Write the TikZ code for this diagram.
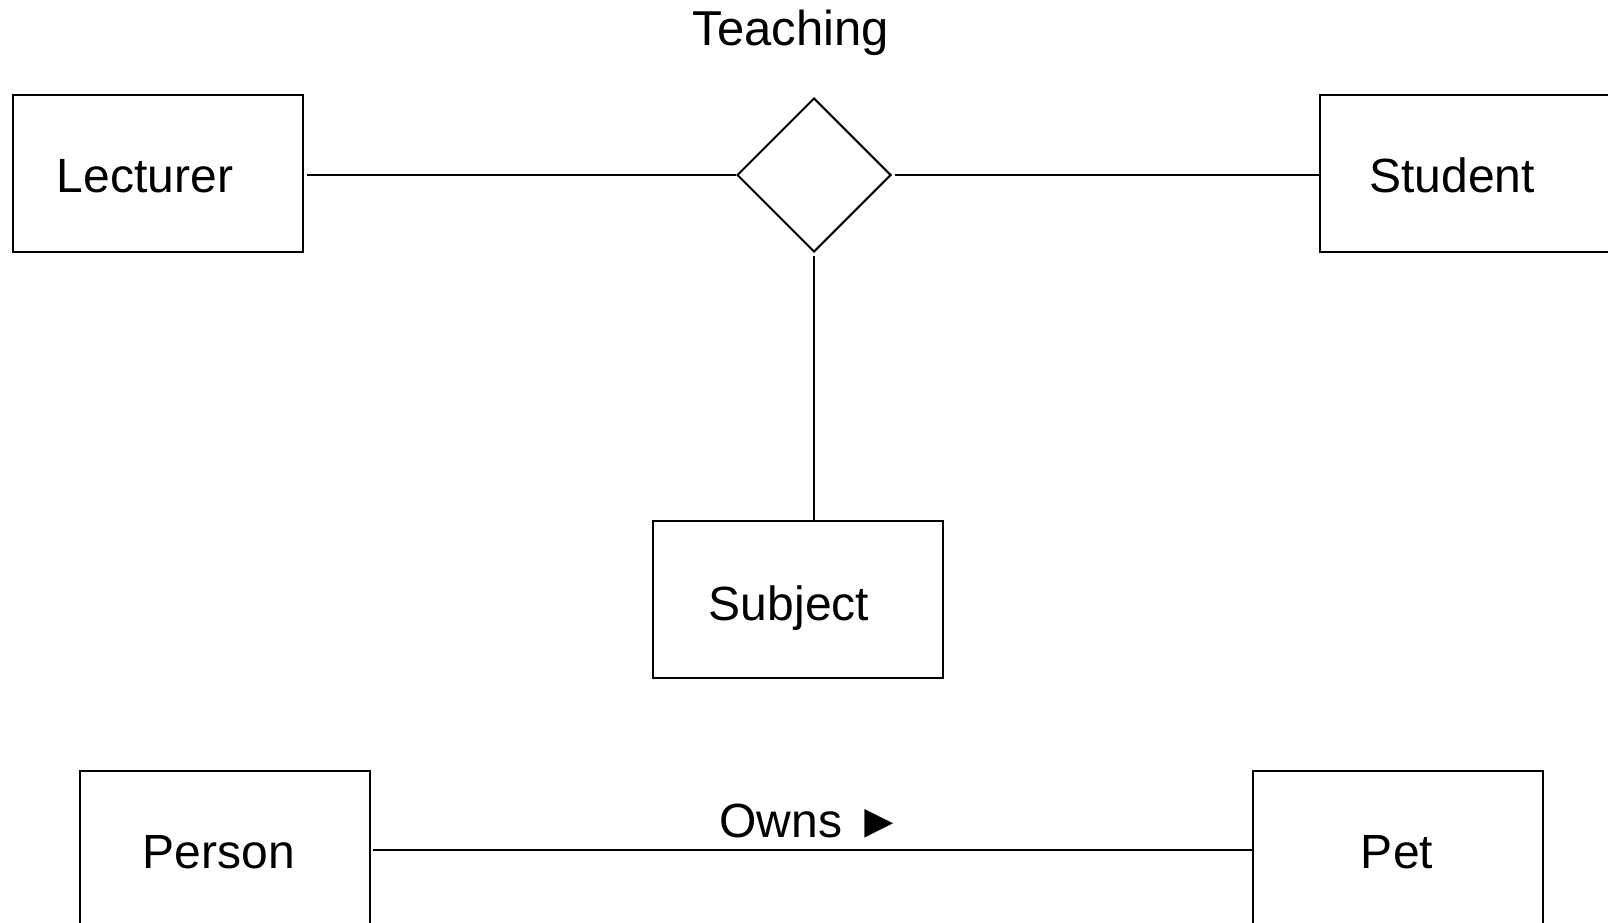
\documentclass[tikz,border=0pt]{standalone}
\usepackage{fontspec}
\setmainfont{Liberation Sans}
\usetikzlibrary{shapes.geometric}

\tikzset{
  entity/.style={draw, line width=2pt, rectangle, minimum width=290pt, minimum height=157pt, inner sep=0pt},
  relation/.style={draw, line width=2pt, diamond, minimum width=154pt, minimum height=154pt, inner sep=0pt},
  caption/.style={font=\fontsize{48}{52}\selectfont, text height=33pt, text depth=0pt, inner sep=0pt},
  link/.style={line width=2pt, shorten <=2.5pt},
}

\begin{document}
\begin{tikzpicture}[x=1pt, y=-1pt]
  \useasboundingbox (0,0) rectangle (1608,922);
  \clip (0,0) rectangle (1608,922);

  % ternary relationship
  \node[entity, label={[caption, xshift=-13pt, yshift=-2.5pt]center:Lecturer}] (lect) at (158,173.5) {};
  \node[entity, label={[caption, xshift=-13pt, yshift=-2.5pt]center:Student}] (stud) at (1465,173.5) {};
  \node[entity, label={[caption, xshift=-9pt, yshift=-4pt]center:Subject}] (subj) at (798,599.5) {};
  \node[relation] (teach) at (814,175) {};
  \node[caption, font=\fontsize{49}{53}\selectfont] (teach-name) at (791,29) {Teaching};

  \draw[link] (teach.west -| lect.east) -- (teach.west);
  \draw[link] (teach.east) -- (teach.east -| stud.west);
  \draw[link] (teach.south) -- (teach.south |- subj.north);

  % binary relationship
  \node[entity, label={[caption, xshift=-5.5pt, yshift=-2pt]center:Person}] (pers) at (224.5,849.5) {};
  \node[entity, label={[caption, xshift=-1pt, yshift=-2pt]center:Pet}] (pet) at (1398,849.5) {};
  \draw[link] (pers.east) -- node[caption, yshift=29pt] (owns) {Owns ►} (pet.west);
\end{tikzpicture}
\end{document}
